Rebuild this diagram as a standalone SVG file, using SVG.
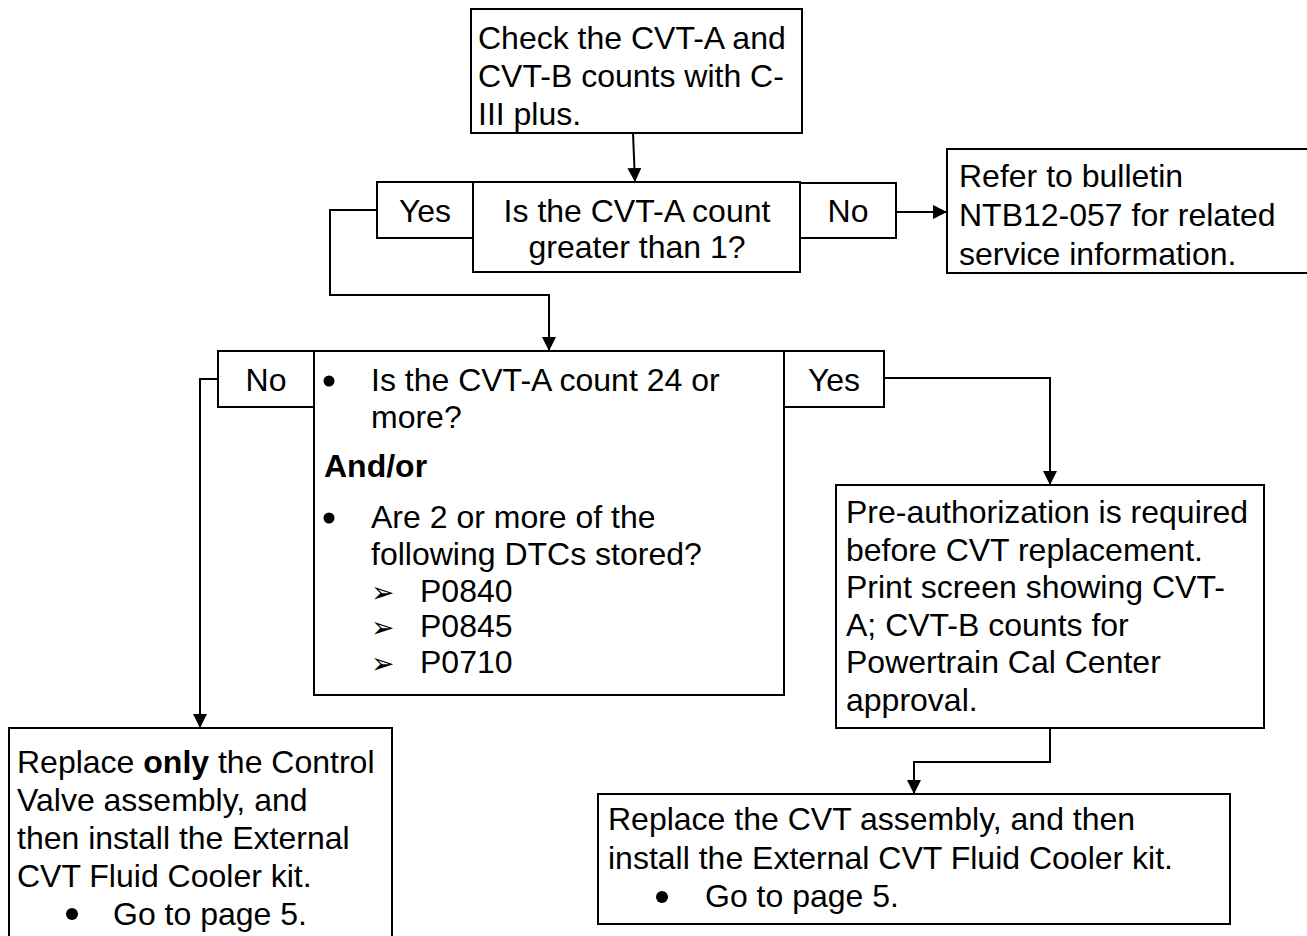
<svg xmlns="http://www.w3.org/2000/svg" width="1307" height="936" viewBox="0 0 1307 936">
<style>
.box{fill:#fff;stroke:#000;stroke-width:2}
.t{font-family:"Liberation Sans",Arial,sans-serif;font-size:32px;fill:#000}
.c{text-anchor:middle}
.b{font-weight:bold}
.ar{font-family:"DejaVu Sans",sans-serif;font-size:28px;fill:#000}
.conn{fill:none;stroke:#000;stroke-width:2}
.dot{fill:#000}
</style>
<defs>
<marker id="ah" markerUnits="userSpaceOnUse" markerWidth="14" markerHeight="14" refX="14" refY="7" orient="auto">
<path d="M0,0 L14,7 L0,14 z" fill="#000"/>
</marker>
</defs>
<rect width="1307" height="936" fill="#fff"/>
<g id="connectors">
<path class="conn" d="M633,133 L635,182" marker-end="url(#ah)"/>
<path class="conn" d="M377,210 H330 V295 H549 V351" marker-end="url(#ah)"/>
<path class="conn" d="M896,212 H947" marker-end="url(#ah)"/>
<path class="conn" d="M218,379 H200 V728" marker-end="url(#ah)"/>
<path class="conn" d="M884,378 H1050 V485" marker-end="url(#ah)"/>
<path class="conn" d="M1050,728 V762 H914 V794" marker-end="url(#ah)"/>
</g>
<g id="start">
<rect class="box" x="471" y="9" width="331" height="124"/>
<text class="t" x="478" y="49">Check the CVT-A and</text>
<text class="t" x="478" y="87">CVT-B counts with C-</text>
<text class="t" x="478" y="125">III plus.</text>
</g>
<g id="decision1">
<rect class="box" x="473" y="182" width="327" height="90"/>
<text class="t c" x="637" y="222">Is the CVT-A count</text>
<text class="t c" x="637" y="258">greater than 1?</text>
</g>
<g id="yes1">
<rect class="box" x="377" y="182" width="96" height="56"/>
<text class="t c" x="425" y="222">Yes</text>
</g>
<g id="no1">
<rect class="box" x="800" y="183" width="96" height="55"/>
<text class="t c" x="848" y="222">No</text>
</g>
<g id="refer">
<rect class="box" x="947" y="149" width="365" height="124"/>
<text class="t" x="959" y="187">Refer to bulletin</text>
<text class="t" x="959" y="226">NTB12-057 for related</text>
<text class="t" x="959" y="265">service information.</text>
</g>
<g id="decision2">
<rect class="box" x="314" y="351" width="470" height="344"/>
<circle class="dot" cx="329" cy="381" r="5.5"/>
<text class="t" x="371" y="391">Is the CVT-A count 24 or</text>
<text class="t" x="371" y="428">more?</text>
<text class="t b" x="324" y="477">And/or</text>
<circle class="dot" cx="329" cy="518" r="5.5"/>
<text class="t" x="371" y="528">Are 2 or more of the</text>
<text class="t" x="371" y="565">following DTCs stored?</text>
<text class="ar" x="371" y="602">➢</text>
<text class="t" x="420" y="602">P0840</text>
<text class="ar" x="371" y="637">➢</text>
<text class="t" x="420" y="637">P0845</text>
<text class="ar" x="371" y="673">➢</text>
<text class="t" x="420" y="673">P0710</text>
</g>
<g id="no2">
<rect class="box" x="218" y="351" width="96" height="56"/>
<text class="t c" x="266" y="391">No</text>
</g>
<g id="yes2">
<rect class="box" x="784" y="351" width="100" height="56"/>
<text class="t c" x="834" y="391">Yes</text>
</g>
<g id="preauth">
<rect class="box" x="836" y="485" width="428" height="243"/>
<text class="t" x="846" y="523">Pre-authorization is required</text>
<text class="t" x="846" y="561">before CVT replacement.</text>
<text class="t" x="846" y="598">Print screen showing CVT-</text>
<text class="t" x="846" y="636">A; CVT-B counts for</text>
<text class="t" x="846" y="673">Powertrain Cal Center</text>
<text class="t" x="846" y="711">approval.</text>
</g>
<g id="replace-valve">
<rect class="box" x="9" y="728" width="383" height="212"/>
<text class="t" x="17" y="773">Replace <tspan class="b">only</tspan> the Control</text>
<text class="t" x="17" y="811">Valve assembly, and</text>
<text class="t" x="17" y="849">then install the External</text>
<text class="t" x="17" y="887">CVT Fluid Cooler kit.</text>
<circle class="dot" cx="72" cy="914" r="6"/>
<text class="t" x="113" y="925">Go to page 5.</text>
</g>
<g id="replace-cvt">
<rect class="box" x="598" y="794" width="632" height="130"/>
<text class="t" x="608" y="830">Replace the CVT assembly, and then</text>
<text class="t" x="608" y="869">install the External CVT Fluid Cooler kit.</text>
<circle class="dot" cx="662" cy="897" r="6"/>
<text class="t" x="705" y="907">Go to page 5.</text>
</g>
</svg>
